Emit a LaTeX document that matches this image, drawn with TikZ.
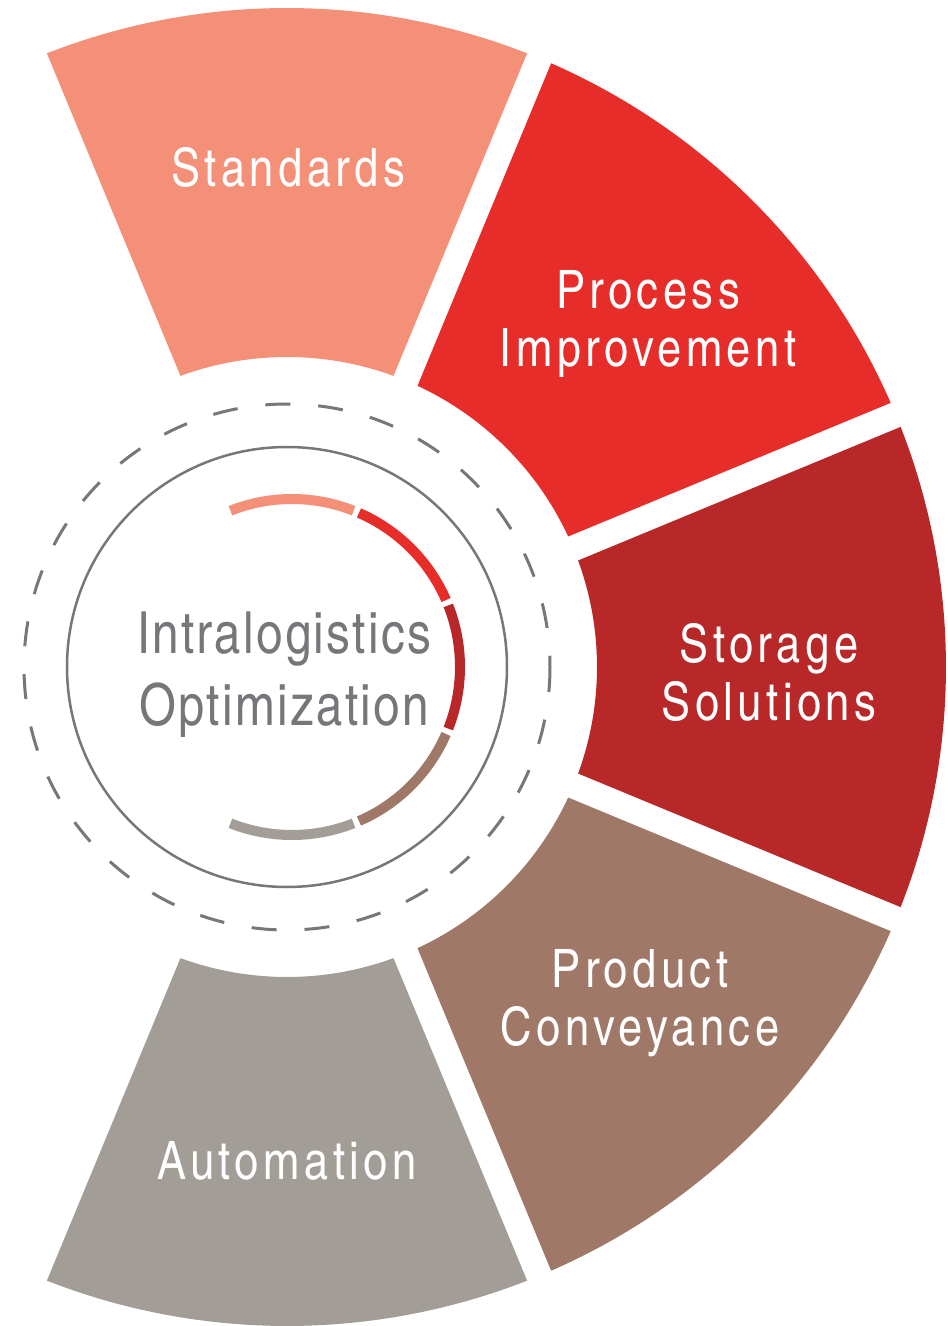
\documentclass[tikz,border=0pt]{standalone}
\usepackage{fontspec}
\newfontfamily\segfont{TeX Gyre Heros Cn}[LetterSpace=8.5]
\newfontfamily\hubfont{TeX Gyre Heros Cn}[LetterSpace=4]

\definecolor{stdcol}{HTML}{F48F78}
\definecolor{proccol}{HTML}{E62D2A}
\definecolor{storcol}{HTML}{B82828}
\definecolor{prodcol}{HTML}{A07868}
\definecolor{autocol}{HTML}{A29D97}
\definecolor{hubgray}{HTML}{77777B}

\tikzset{
  seglabel/.style={text=white, font=\segfont\fontsize{53}{58}\selectfont, align=center, anchor=base, inner sep=0pt},
  hublabel/.style={text=hubgray, font=\hubfont\fontsize{58}{72}\selectfont, align=center, anchor=base, inner sep=0pt},
  ringline/.style={draw=hubgray, line width=2.5pt},
  marker/.style={line width=10pt, shift={(5pt,0pt)}},
}

\begin{document}
\begin{tikzpicture}[x=1pt, y=1pt]
\useasboundingbox (-287,-659) rectangle (661,667);

% the five pieces of the ring
\foreach \a/\col in {90/stdcol, 45/proccol, 0/storcol, -45/prodcol, -90/autocol}{
  \fill[\col] ({\a-21.37}:659pt) arc[start angle={\a-21.37}, end angle={\a+21.37}, radius=659pt]
    -- ({\a+20.1}:310pt) arc[start angle={\a+20.1}, end angle={\a-20.1}, radius=310pt] -- cycle;
}

% hub
\draw[hubgray, line width=3pt, dash pattern=on 25pt off 27.95pt] (0:263pt) arc[start angle=0, end angle=-360, radius=263pt];
\draw[ringline] (0,0) circle[radius=220pt];
\foreach \a/\col in {90/stdcol, 45/proccol, 0/storcol, -45/prodcol, -90/autocol}{
  \draw[marker, \col] ({\a-21.5}:168pt) arc[start angle={\a-21.5}, end angle={\a+21.5}, radius=168pt];
}

\node[seglabel] (standards) at (1,480) {Standards};
\node[seglabel] (process) at (361,300) {Process\\Improvement};
\node[seglabel] (storage) at (482,-53) {Storage\\Solutions};
\node[seglabel] (product) at (353,-378) {Product\\Conveyance};
\node[seglabel] (automation) at (0,-512) {Automation};
\node[hublabel] (hub) at (-3,-58) {Intralogistics\\Optimization};
\end{tikzpicture}
\end{document}
